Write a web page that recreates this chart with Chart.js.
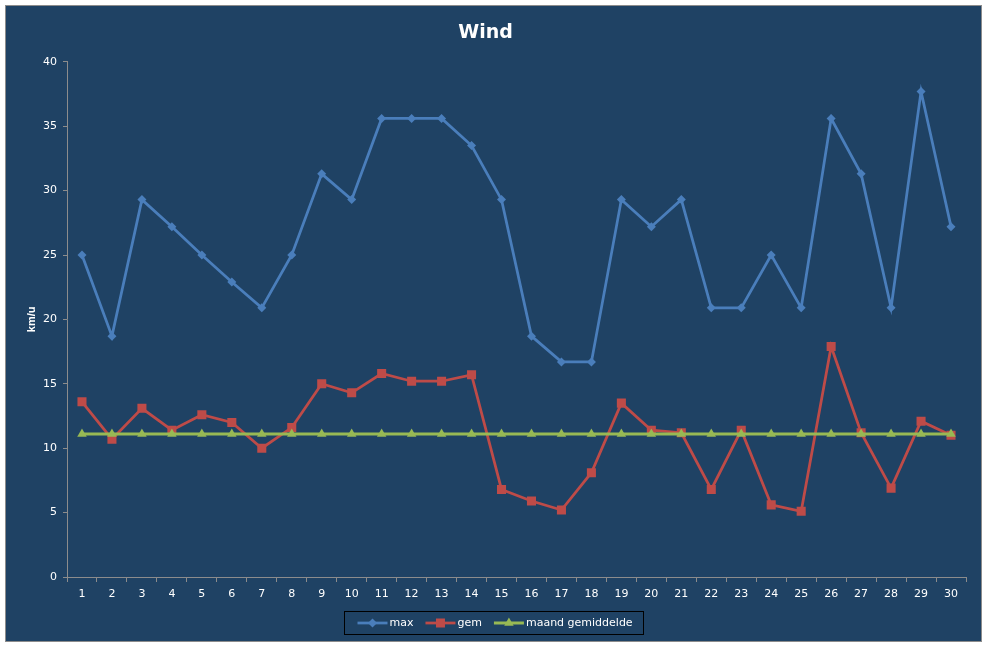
<!DOCTYPE html>
<html>
<head>
<meta charset="utf-8">
<style>
  html, body { margin: 0; padding: 0; background: #ffffff; }
  #wrap { position: relative; width: 987px; height: 648px; }
  canvas { display: block; }
</style>
<script src="https://cdn.jsdelivr.net/npm/chart.js@4.4.0/dist/chart.umd.min.js"></script>
</head>
<body>
<div id="wrap"><canvas id="c" width="987" height="648"></canvas></div>
<script>
// ---- data ----
const days = ['1','2','3','4','5','6','7','8','9','10','11','12','13','14','15','16','17','18','19','20','21','22','23','24','25','26','27','28','29','30'];
const maxWind = [25.0, 18.7, 29.3, 27.2, 25.0, 22.9, 20.9, 25.0, 31.3, 29.3, 35.6, 35.6, 35.6, 33.5, 29.3, 18.7, 16.7, 16.7, 29.3, 27.2, 29.3, 20.9, 20.9, 25.0, 20.9, 35.6, 31.3, 20.9, 37.7, 27.2];
const avgWind = [13.6, 10.7, 13.1, 11.4, 12.6, 12.0, 10.0, 11.6, 15.0, 14.3, 15.8, 15.2, 15.2, 15.7, 6.8, 5.9, 5.2, 8.1, 13.5, 11.4, 11.2, 6.8, 11.4, 5.6, 5.1, 17.9, 11.2, 6.9, 12.1, 11.0];
const monthAvg = [11.1, 11.1, 11.1, 11.1, 11.1, 11.1, 11.1, 11.1, 11.1, 11.1, 11.1, 11.1, 11.1, 11.1, 11.1, 11.1, 11.1, 11.1, 11.1, 11.1, 11.1, 11.1, 11.1, 11.1, 11.1, 11.1, 11.1, 11.1, 11.1, 11.1];
const seriesNames = ['max', 'gem', 'maand gemiddelde'];
const yTicks = { min: 0, max: 40, step: 5 };

const FONT = '"DejaVu Sans", Verdana, sans-serif';
const BG = '#1f4264';
const C_BLUE = '#4a7ebb';
const C_RED = '#be4b48';
const C_GREEN = '#98b954';

const bgPlugin = {
  id: 'bgPlugin',
  beforeDraw(chart) {
    const ctx = chart.ctx;
    ctx.save();
    ctx.fillStyle = '#ffffff';
    ctx.fillRect(0, 0, chart.width, chart.height);
    ctx.fillStyle = BG;
    ctx.fillRect(5, 5, 976, 636);
    ctx.strokeStyle = '#8c8c8c';
    ctx.lineWidth = 1;
    ctx.strokeRect(5.5, 5.5, 976, 636);
    ctx.restore();
  }
};

function drawMarker(ctx, style, x, y, color) {
  ctx.fillStyle = color;
  ctx.beginPath();
  if (style === 'rectRot') {
    const r = 4.5;
    ctx.moveTo(x - r, y); ctx.lineTo(x, y - r); ctx.lineTo(x + r, y); ctx.lineTo(x, y + r);
  } else if (style === 'rect') {
    const h = 4.5;
    ctx.rect(x - h, y - h, 2 * h, 2 * h);
  } else {
    const r = 5.5;
    ctx.moveTo(x, y - r); ctx.lineTo(x + r * 0.866, y + r * 0.5); ctx.lineTo(x - r * 0.866, y + r * 0.5);
  }
  ctx.closePath();
  ctx.fill();
}

const boxLegend = {
  id: 'boxLegend',
  afterDraw(chart) {
    const ctx = chart.ctx;
    ctx.save();
    ctx.font = '11px ' + FONT;
    const dsets = chart.data.datasets;
    const lineLen = 30, gapText = 2, gapItem = 12, padL = 13, padR = 11;
    let total = padL + padR;
    const widths = dsets.map(d => ctx.measureText(d.label).width);
    dsets.forEach((d, i) => { total += lineLen + gapText + widths[i] + (i < dsets.length - 1 ? gapItem : 0); });
    const boxL = Math.round(chart.width / 2 - total / 2) + 0.5;
    const boxT = 611.5, boxH = 23;
    ctx.strokeStyle = '#000000';
    ctx.lineWidth = 1;
    ctx.strokeRect(boxL, boxT, Math.round(total), boxH);
    const cy = boxT + boxH / 2;
    let x = boxL + padL;
    dsets.forEach((d, i) => {
      ctx.strokeStyle = d.borderColor;
      ctx.lineWidth = d.borderWidth;
      ctx.beginPath();
      ctx.moveTo(x, cy); ctx.lineTo(x + lineLen, cy);
      ctx.stroke();
      drawMarker(ctx, d.pointStyle, x + lineLen / 2, cy, d.borderColor);
      ctx.fillStyle = '#ffffff';
      ctx.textBaseline = 'middle';
      ctx.textAlign = 'left';
      ctx.fillText(d.label, x + lineLen + gapText, cy);
      x += lineLen + gapText + widths[i] + gapItem;
    });
    ctx.restore();
  }
};

new Chart(document.getElementById('c'), {
  type: 'line',
  data: {
    labels: days,
    datasets: [
      {
        label: seriesNames[0], data: maxWind, order: 3,
        borderColor: C_BLUE, backgroundColor: C_BLUE, borderWidth: 2.75,
        pointStyle: 'rectRot', pointRadius: 4.5, pointBorderWidth: 0,
        pointBackgroundColor: C_BLUE, tension: 0
      },
      {
        label: seriesNames[1], data: avgWind, order: 2,
        borderColor: C_RED, backgroundColor: C_RED, borderWidth: 2.75,
        pointStyle: 'rect', pointRadius: 6.4, pointBorderWidth: 0,
        pointBackgroundColor: C_RED, tension: 0
      },
      {
        label: seriesNames[2], data: monthAvg, order: 1,
        borderColor: C_GREEN, backgroundColor: C_GREEN, borderWidth: 3,
        pointStyle: 'triangle', pointRadius: 5.5, pointBorderWidth: 0,
        pointBackgroundColor: C_GREEN, tension: 0
      }
    ]
  },
  options: {
    responsive: false,
    animation: false,
    devicePixelRatio: 1,
    layout: { padding: { left: 5, right: 21, top: 5, bottom: 41 } },
    plugins: {
      legend: { display: false },
      tooltip: { enabled: false },
      title: {
        display: true, text: 'Wind', color: '#ffffff',
        font: { family: FONT, size: 19, weight: 'bold' },
        padding: { top: 17, bottom: 17 }
      }
    },
    scales: {
      x: {
        type: 'category',
        offset: true,
        grid: { offset: true, drawOnChartArea: false, color: '#8c8c8c', tickLength: 5, lineWidth: 1 },
        border: { color: '#8c8c8c', width: 1 },
        ticks: { color: '#ffffff', font: { family: FONT, size: 11 }, padding: 6, maxRotation: 0, autoSkip: false },
        afterFit(s) { s.height = 30; }
      },
      y: {
        min: yTicks.min, max: yTicks.max,
        grid: { drawOnChartArea: false, color: '#8c8c8c', tickLength: 4, lineWidth: 1 },
        border: { color: '#8c8c8c', width: 1 },
        ticks: { stepSize: yTicks.step, color: '#ffffff', font: { family: FONT, size: 11 }, padding: 6 },
        title: {
          display: true, text: 'km/u', color: '#ffffff',
          font: { family: '"Liberation Sans", Arial, sans-serif', size: 11, weight: 'bold' },
          padding: { top: 20, bottom: 0 }
        },
        afterFit(s) { s.width = 62; }
      }
    }
  },
  plugins: [bgPlugin, boxLegend]
});
</script>
</body>
</html>
